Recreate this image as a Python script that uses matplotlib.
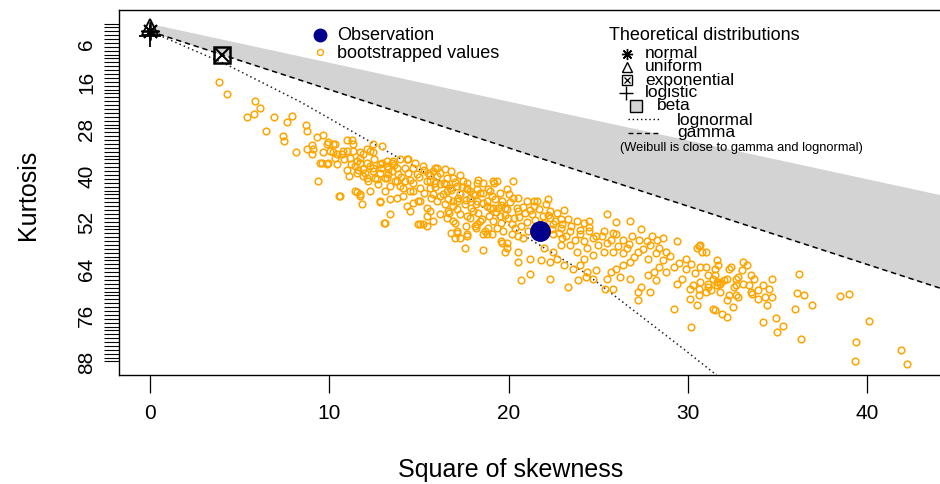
import matplotlib
matplotlib.use("Agg")
import matplotlib.pyplot as plt
from matplotlib.lines import Line2D

plt.rcParams["font.family"] = ["Liberation Sans", "DejaVu Sans"]

# bootstrapped samples: square of skewness / kurtosis
boot_sq_skew = [
    3.85, 4.29, 5.86, 6.13, 5.41, 5.80, 6.92, 6.47, 7.92, 7.64, 8.70, 8.76, 7.42, 7.47, 8.14, 8.76, 9.04, 9.04,
    9.31, 9.37, 10.54, 9.65, 9.09, 9.48, 9.87, 10.43, 10.99, 11.27, 11.32, 10.21, 9.93, 10.04, 10.43, 10.76,
    11.15, 11.54, 11.71, 12.10, 12.44, 12.94, 11.10, 11.54, 11.71, 11.82, 12.27, 12.83, 13.39, 13.05, 13.39,
    14.33, 14.67, 13.22, 13.55, 13.94, 14.33, 12.83, 12.44, 12.10, 12.66, 13.22, 13.78, 14.11, 14.67, 15.06,
    15.45, 15.78, 16.01, 15.62, 16.17, 16.56, 16.90, 17.46, 17.68, 18.24, 18.57, 19.13, 19.24, 18.96, 15.78,
    15.06, 15.45, 17.12, 17.29, 17.68, 17.57, 18.57, 18.80, 19.35, 16.17, 16.56, 16.90, 18.24,
    9.87, 10.32, 10.21, 9.65, 9.59, 9.93, 10.99, 10.71, 11.32, 11.71, 11.88, 12.27, 12.44, 12.10, 11.71, 11.43,
    11.88, 11.54, 12.27, 12.44, 12.94, 13.22, 13.50, 13.27, 12.83, 12.55, 12.16, 11.88, 12.72, 13.11, 13.50,
    13.78, 13.83, 13.66, 13.39, 13.11, 13.94, 14.22, 14.39, 14.39, 14.67, 14.89, 14.67, 14.50, 14.11, 13.78,
    15.06, 15.23, 15.51, 15.45, 15.62, 15.90, 16.01, 15.78, 16.01, 15.62, 15.45, 15.23, 14.95, 16.45, 16.56,
    16.73, 16.34, 16.45, 16.62, 17.12, 17.29, 16.90, 17.12, 17.68, 17.85, 17.57, 17.29, 17.68, 18.01, 18.24,
    18.24, 18.57, 18.40, 18.13, 18.80, 18.96, 19.13, 19.35, 19.52, 19.63, 19.80, 19.91, 19.97, 19.52, 19.13,
    18.85, 18.57, 17.12, 17.01, 19.63, 20.25, 20.25, 20.47, 20.36, 20.19, 19.91, 19.80, 13.11, 11.43, 11.71,
    12.83, 14.95, 14.50, 10.60,
    19.2, 17.85, 18.4, 18.85, 20.0, 20.5, 21.0, 21.4, 17.1, 18.2, 18.8, 19.4, 19.9, 20.5, 20.9, 21.3, 21.9,
    22.3, 22.5, 21.9, 16.7, 17.85, 18.5, 19.6, 20.2, 20.7, 21.1, 20.5, 17.0, 17.6, 16.8, 22.3, 22.7, 22.9, 22.5,
    23.1, 22.2, 22.1, 21.6, 21.4, 22.9, 23.3, 23.8, 24.2, 24.5, 25.5, 26.0, 26.8, 23.4, 24.0, 24.5, 24.9, 25.3,
    25.7, 26.0, 26.4, 26.9, 27.4, 27.3, 27.7, 28.0, 28.3, 28.6, 29.4, 27.9, 28.4, 28.8, 29.9, 30.5, 30.6, 30.8,
    31.6, 33.1, 33.3, 32.7, 33.1, 33.5, 32.3, 32.0, 31.8, 31.4, 31.1, 30.7, 30.3, 30.6, 30.1, 29.7, 29.4, 29.2,
    28.8, 28.4, 28.1, 28.2, 27.8, 27.4, 27.2, 27.2, 26.8, 26.4, 26.0, 25.7, 25.5, 25.8, 25.4, 26.8, 26.2, 27.2,
    26.6, 25.8, 25.3, 24.7, 24.4, 24.2, 23.8, 23.4, 23.0, 22.9, 22.5, 22.7, 22.3, 23.1, 23.6, 24.0, 24.4, 24.9,
    24.7, 24.3, 23.9, 23.3, 22.3, 21.2, 20.7, 21.2, 20.5, 21.8, 22.0, 20.5, 19.9, 19.6, 19.7, 19.1, 20.8, 18.7,
    18.2, 17.7, 30.5, 30.6, 30.1, 31.4, 31.9, 32.2, 32.3, 32.5, 30.2, 29.2, 27.9, 31.6, 31.1, 32.7, 33.0, 32.2,
    30.7, 31.0, 30.7, 31.0, 31.5, 31.5, 31.8, 31.6, 31.1, 31.0, 31.3, 31.8, 31.7, 32.4, 32.8, 33.5, 33.7, 33.4,
    32.6, 32.7, 32.8, 32.2, 31.5, 34.2, 34.5, 33.9, 33.6, 33.9, 34.3, 34.7, 34.4, 34.7, 34.2, 34.9, 35.3, 35.0,
    36.2, 36.1, 36.5, 36.9, 36.0, 36.3, 38.5, 39.0, 40.1, 39.4, 39.3, 41.9, 42.2,
    # dense core of the cloud
    15.3, 15.7, 15.9, 16.2, 16.4, 16.6, 16.8, 16.9, 17.2, 17.4, 17.6, 17.9, 18.1, 18.3, 18.6, 18.9, 19.1, 19.3,
    19.6, 19.8, 20.1, 20.3, 20.6, 20.8, 21.0, 21.2, 21.5, 21.7, 22.0, 22.2, 22.4, 22.6, 22.8, 23.0, 23.2, 23.5,
    23.7, 24.0, 24.2, 24.5, 24.7, 25.0, 25.2, 25.5, 25.8, 26.1, 26.4, 26.7, 27.0, 27.5, 27.8, 28.2, 28.6, 29.0,
    29.5, 29.9, 30.2, 30.4, 12.5, 12.9, 13.3, 13.6, 14.0, 14.2, 14.5, 14.8, 15.0, 15.3, 15.6, 15.9, 16.2, 16.5,
    16.8, 17.0, 17.3, 17.7, 18.0, 18.3, 11.2, 11.6, 10.8, 10.3, 11.0, 12.0,
]
boot_kurt = [
    16.0, 19.1, 20.9, 22.8, 25.1, 24.3, 25.1, 28.7, 24.8, 26.4, 27.2, 28.7, 30.0, 31.3, 34.2, 33.2, 32.4, 34.5,
    30.3, 41.5, 45.4, 29.8, 33.2, 36.8, 37.1, 37.1, 31.1, 31.1, 31.9, 31.9, 31.6, 33.9, 34.5, 33.9,
    35.5, 36.3, 34.2, 33.2, 34.2, 32.6, 40.2, 44.3, 45.4, 47.5, 44.1, 47.0, 46.2, 52.4, 50.1,
    48.0, 47.2, 36.3, 36.3, 36.0, 36.0, 37.1, 38.9, 40.7, 41.0, 40.7, 41.5, 43.3, 44.1, 46.7,
    48.5, 38.9, 38.1, 41.5, 42.3, 44.1, 40.7, 41.5, 43.3, 42.0, 44.6, 41.5, 46.2, 48.5, 51.9,
    52.7, 53.2, 54.5, 56.3, 55.3, 58.9, 59.2, 55.3, 53.7, 50.1, 51.1, 51.9, 52.7,
    31.9, 31.9, 34.2, 34.2, 36.8, 36.8, 33.7, 34.5, 33.7, 35.5, 34.5, 33.7, 31.9, 36.8, 36.8, 37.6,
    38.4, 39.4, 37.6, 38.1, 36.8, 37.6, 36.8, 38.4, 39.4, 40.7, 41.5, 40.2, 42.3, 40.7, 38.9,
    38.1, 39.7, 41.5, 42.8, 44.1, 42.8, 41.5, 39.4, 35.8, 38.1, 39.7, 42.0, 44.1, 45.4, 45.9,
    43.3, 37.6, 39.4, 41.5, 43.3, 38.1, 40.2, 44.9, 46.7, 49.3, 50.6, 52.7, 52.7, 38.4, 40.7,
    43.3, 44.9, 47.5, 49.3, 42.8, 44.9, 46.7, 48.8, 43.6, 45.9, 47.5, 50.1, 50.6, 49.3, 46.7,
    43.6, 42.0, 51.9, 53.2, 46.7, 44.1, 48.5, 41.5, 44.6, 46.7, 48.5, 43.6, 51.1, 50.6, 51.9,
    53.7, 55.3, 55.0, 56.3, 57.6, 41.5, 45.9, 48.5, 53.7, 55.3, 57.6, 59.7, 52.4, 44.1, 44.9,
    46.7, 46.7, 49.3, 45.4,
    42.0, 44.1, 44.6, 43.6, 44.9, 45.9, 46.7, 46.7, 46.7, 47.5, 48.0, 48.5, 48.8, 49.3, 49.8, 50.1, 50.6,
    51.1, 52.7, 52.4, 49.8, 51.1, 51.4, 52.4, 52.7, 53.2, 54.5, 55.8, 52.4, 53.2, 55.0, 49.3, 49.8, 53.7, 55.3,
    49.0, 46.2, 47.5, 46.7, 48.0, 51.4, 51.4, 51.9, 52.4, 51.9, 50.1, 52.2, 51.9, 54.5, 55.3, 54.5, 55.8, 54.5,
    56.6, 55.3, 56.6, 55.8, 54.0, 56.6, 57.1, 55.8, 56.6, 56.3, 57.1, 57.9, 58.9, 59.7, 61.5, 58.9, 58.4, 59.7,
    61.8, 62.3, 63.1, 66.7, 68.0, 70.1, 64.1, 67.0, 68.0, 66.7, 65.7, 67.5, 68.3, 69.3, 69.3, 66.7, 68.0, 63.6,
    64.9, 63.6, 64.9, 67.0, 65.7, 68.8, 70.1, 72.2, 62.3, 63.1, 64.1, 64.9, 66.7, 69.3, 69.3, 66.7, 66.2, 59.7,
    58.9, 59.7, 59.7, 60.5, 58.9, 61.5, 59.7, 57.9, 56.3, 57.9, 59.7, 61.5, 62.3, 63.1, 64.1, 63.1, 64.9, 64.4,
    66.7, 66.2, 67.0, 68.8, 66.7, 65.4, 67.0, 61.5, 62.3, 61.8, 58.9, 59.7, 58.9, 57.1, 54.5, 55.3, 56.3, 54.5,
    53.7, 55.8, 73.5, 70.9, 71.9, 74.5, 75.8, 76.6, 70.9, 74.0, 79.2, 74.5, 70.1, 67.5, 68.0, 68.3, 64.4, 66.7,
    57.9, 59.7, 63.6, 63.6, 64.1, 65.7, 67.5, 68.3, 68.8, 70.1, 69.6, 70.1, 63.1, 63.6, 66.2, 65.7, 66.7, 68.3,
    68.8, 70.9, 71.4, 72.2, 74.8, 68.3, 69.3, 69.6, 70.6, 71.9, 71.4, 71.4, 73.5, 66.7, 77.9, 76.9, 78.9, 80.3,
    65.4, 70.4, 70.9, 73.5, 74.5, 82.3, 71.1, 70.6, 77.6, 83.1, 87.8, 85.0, 88.6,
    # dense core of the cloud
    44.5, 46.0, 43.0, 45.5, 42.0, 46.2, 43.8, 48.0, 45.8, 43.0, 46.5, 48.5, 45.2, 49.8, 47.2, 50.5, 45.3, 49.5,
    47.8, 50.2, 47.0, 51.0, 50.8, 48.2, 52.0, 49.0, 51.5, 48.8, 53.5, 50.2, 54.0, 51.8, 55.0, 52.6, 55.8, 53.2,
    56.6, 54.2, 57.0, 53.3, 56.2, 58.0, 55.6, 57.4, 54.8, 58.3, 60.0, 57.8, 61.2, 59.0, 61.5, 60.0, 62.0, 60.8,
    62.6, 64.2, 62.8, 65.3, 36.0, 38.2, 39.8, 37.3, 40.5, 38.2, 41.2, 37.0, 40.5, 38.8, 40.0, 42.0, 39.5, 42.2,
    39.0, 41.8, 40.0, 42.0, 44.8, 41.2, 37.2, 38.6, 36.0, 35.5, 38.8, 39.5,
]

obs_sq_skew = 21.75
obs_kurt = 54.3

# theoretical reference points (square of skewness, kurtosis)
normal_pt = (0, 3.0)
uniform_pt = (0, 1.8)
exponential_pt = (4, 9.0)
logistic_pt = (0, 4.2)

# beta region limits and gamma line
limit_x = [0, 44.12]
beta_upper_k = [1.0, 45.1]
gamma_k = [3.0, 69.2]

# lognormal curve
lognorm_x = [0, 4.2, 8.4, 12.8, 14.7, 17.9, 21.0, 24.2, 29.6, 31.6]
lognorm_k = [3.0, 11.4, 21.2, 32.8, 37.7, 46.2, 56.0, 65.0, 84.2, 91.5]

kurt_ticks = list(range(1, 89))
kurt_labels = [6, 16, 28, 40, 52, 64, 76, 88]
skew_ticks = [0, 10, 20, 30, 40]

W, H = 940, 485
fig = plt.figure(figsize=(W / 100, H / 100), dpi=100)
ax = fig.add_axes([119 / W, 1 - 376 / H, (941 - 119) / W, (376 - 11) / H])
ax.set_xlim(-1.73, 44.12)
ax.set_ylim(91.48, -2.48)

ax.fill_between(limit_x, beta_upper_k, gamma_k, color="#D3D3D3", lw=0, zorder=1)
ax.plot(limit_x, gamma_k, color="black", lw=1.1, dashes=(3.5, 2.5), zorder=2)
ax.plot(lognorm_x, lognorm_k, color="#222222", lw=1.1, dashes=(1.0, 2.0), zorder=2)

ax.plot(boot_sq_skew, boot_kurt, ls="none", marker="o", ms=4.8, mfc="none", mec="orange", mew=1.1, zorder=3)
ax.plot([obs_sq_skew], [obs_kurt], ls="none", marker="o", ms=14, color="darkblue", zorder=4)

mk = dict(ls="none", color="black", mfc="none", zorder=5)
ax.plot(*[[v] for v in normal_pt], marker=(8, 2, 0), ms=13, mew=1.3, **mk)
ax.plot(*[[v] for v in uniform_pt], marker="^", ms=12, mew=1.3, **mk)
ax.plot(*[[v] for v in logistic_pt], marker="+", ms=16, mew=1.3, **mk)
ax.plot(*[[v] for v in exponential_pt], marker="s", ms=12, mew=1.8, **mk)
ax.plot(*[[v] for v in exponential_pt], marker="x", ms=10, mew=1.5, **mk)

for side in ("top", "left", "bottom"):
    ax.spines[side].set_linewidth(1.0)
ax.spines["right"].set_visible(False)

ax.set_xticks(skew_ticks)
ax.set_xticklabels([str(v) for v in skew_ticks])
ax.tick_params(axis="x", length=13, width=0.9, pad=7, labelsize=15)
ax.set_yticks(kurt_ticks)
ax.set_yticklabels([str(k) if k in kurt_labels else "" for k in kurt_ticks], rotation=90, va="center")
ax.tick_params(axis="y", length=10.5, width=0.8, pad=6, labelsize=15)

fig.text(511 / W, 1 - 470 / H, "Square of skewness", ha="center", va="center", fontsize=18)
fig.text(28 / W, 1 - 195 / H, "Kurtosis", rotation=90, ha="center", va="center", fontsize=18)


# legend keys placed in figure pixels
def fxy(xp, yp):
    return xp / W, 1 - yp / H


def key_marker(xp, yp, **style):
    x, y = fxy(xp, yp)
    fig.add_artist(Line2D([x], [y], transform=fig.transFigure, ls="none", **style))


def key_line(x0, x1, yp, **style):
    a, y = fxy(x0, yp)
    b, _ = fxy(x1, yp)
    fig.add_artist(Line2D([a, b], [y, y], transform=fig.transFigure, color="black", lw=1.0, **style))


def key_text(xp, yp, s, size=12.5):
    x, y = fxy(xp, yp)
    fig.text(x, y, s, ha="left", va="center", fontsize=size)


key_marker(320, 36, marker="o", ms=9, color="darkblue")
key_text(337, 36, "Observation", 13)
key_marker(320, 53, marker="o", ms=4.3, mfc="none", mec="orange", mew=1.0)
key_text(337, 53, "bootstrapped values", 13)

key_text(609, 35, "Theoretical distributions", 13)
key_marker(627, 55, marker=(8, 2, 0), ms=8, mew=1.0, color="black")
key_text(645, 54, "normal")
key_marker(627, 68, marker="^", ms=7.5, mew=1.0, mfc="none", mec="black")
key_text(645, 67, "uniform")
key_marker(627, 81, marker="s", ms=6.5, mew=1.0, mfc="none", mec="black")
key_marker(627, 81, marker="x", ms=5, mew=0.9, color="black")
key_text(645, 80, "exponential")
key_marker(626, 94, marker="+", ms=10, mew=1.0, color="black")
key_text(645, 93, "logistic")
key_marker(636, 107, marker="s", ms=9, mew=1.0, mfc="#D3D3D3", mec="black")
key_text(657, 106, "beta")
key_line(628, 660, 120, dashes=(1.0, 2.0))
key_text(677, 120, "lognormal")
key_line(628, 660, 134, dashes=(3.5, 2.5))
key_text(677, 133, "gamma")
key_text(620, 148, "(Weibull is close to gamma and lognormal)", size=9.3)

fig.savefig("out.png", dpi=100)
